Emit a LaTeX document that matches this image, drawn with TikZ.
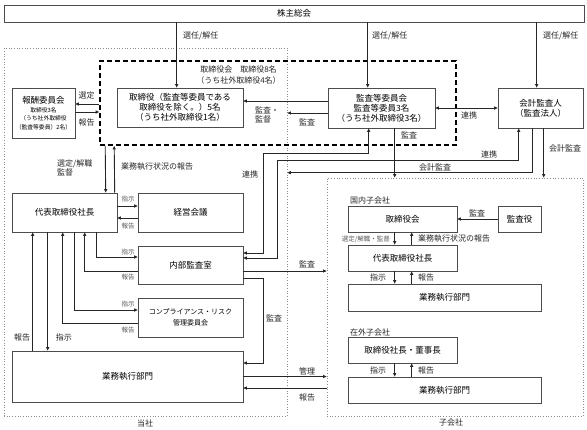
\documentclass[tikz,border=0pt]{standalone}
\usepackage{fontspec}
\setmainfont{Noto Sans CJK JP}
\usetikzlibrary{arrows.meta,positioning}

\begin{document}
\begin{tikzpicture}[x=1pt, y=-1pt, font=\fontsize{8}{10}\selectfont,
    box/.style={draw=black!70, fill=white, line width=0.6pt, align=center,
      inner sep=0pt, font=\fontsize{8.5}{10}\selectfont},
    frame/.style={draw=black!45, dotted, line width=0.7pt, inner sep=0pt},
    arr/.style={-{Triangle[length=3.5pt,width=3pt]}, line width=0.9pt, draw=black!85},
    arrs/.style={{Triangle[length=3.5pt,width=3pt]}-{Triangle[length=3.5pt,width=3pt]},
      line width=0.9pt, draw=black!85},
    lbl/.style={inner sep=0pt, text=black!85},
    sml/.style={lbl, font=\fontsize{6.5}{8}\selectfont, text=black!65}]
    \useasboundingbox (0,0) rectangle (587,429);

    % frames of the two companies
    \node[frame, minimum width=283pt, minimum height=368pt] (tosha) at (145.5,232) {};
    \node[frame, minimum width=256pt, minimum height=238pt] (sub) at (455,297) {};
    \node[lbl] (toshalbl) at (145,423) {当社};
    \node[lbl] (sublbl) at (451,422) {子会社};

    % board, dashed
    \node[draw, dashed, dash pattern=on 5pt off 3pt, line width=1.6pt, inner sep=0pt,
      minimum width=356pt, minimum height=84pt] (brd) at (278,103) {};
    \node[lbl, align=center, font=\fontsize{8}{11}\selectfont] (brdlbl) at (238.5,75.5) {
      取締役会　取締役8名\\（うち社外取締役4名）
    };

    \node[box, minimum width=580pt, minimum height=17pt] (agm) at (294,13.5) {株主総会};

    \node[box, minimum width=63pt, minimum height=50pt,
      font=\fontsize{5.8}{8.5}\selectfont] (rem) at (43.5,113) {
      {\fontsize{8.5}{9.5}\selectfont 報酬委員会}\\
      取締役3名\\
      （うち社外取締役\\
      （監査等委員）2名）
    };
    \node[box, minimum width=126pt, minimum height=39pt] (dir) at (180,107.5) {
      取締役（監査等委員である\\取締役を除く。）5名\\（うち社外取締役1名）
    };
    \node[box, minimum width=107pt, minimum height=40pt] (aud) at (381.5,108) {
      監査等委員会\\監査等委員3名\\（うち社外取締役3名）
    };
    \node[box, minimum width=85pt, minimum height=40pt] (acc) at (540.5,108) {
      会計監査人\\（監査法人）
    };

    % inside the company
    \node[box, minimum width=105pt, minimum height=39pt] (pres) at (64.5,212.5) {代表取締役社長};
    \node[box, minimum width=105pt, minimum height=39pt] (mtg) at (190.5,212.5) {経営会議};
    \node[box, minimum width=105pt, minimum height=38pt] (iad) at (190.5,265) {内部監査室};
    \node[box, minimum width=105pt, minimum height=39pt,
      font=\fontsize{7}{10.5}\selectfont] (cmp) at (190.5,317.5) {
      コンプライアンス・リスク\\管理委員会
    };
    \node[box, minimum width=231pt, minimum height=51pt] (ops) at (127.5,376.5) {業務執行部門};

    % subsidiaries
    \node[box, minimum width=109pt, minimum height=26pt] (sbrd) at (402.5,219) {取締役会};
    \node[box, minimum width=43pt, minimum height=26pt] (kan) at (519.5,219) {監査役};
    \node[box, minimum width=109pt, minimum height=26pt] (spres) at (402.5,258) {代表取締役社長};
    \node[box, minimum width=193pt, minimum height=27pt] (sops) at (444.5,297.5) {業務執行部門};
    \node[box, minimum width=109pt, minimum height=26pt] (fpres) at (402.5,350) {取締役社長・董事長};
    \node[box, minimum width=193pt, minimum height=26pt] (fops) at (444.5,390) {業務執行部門};

    % points on the box edges
    \coordinate (agmA) at ([xshift=60pt]dir.north west);
    \coordinate (agmB) at ([xshift=40pt]aud.north west);
    \coordinate (agmC) at ([xshift=39pt]acc.north west);
    \coordinate (remA) at ([yshift=9pt]rem.east);
    \coordinate (remB) at ([yshift=1pt]rem.east);
    \coordinate (audA) at ([yshift=7pt]aud.west);
    \coordinate (audB) at ([yshift=-5pt]aud.west);
    \coordinate (audC) at ([xshift=67pt]aud.south west);
    \coordinate (accA) at ([xshift=46pt]acc.south west);
    \coordinate (accB) at ([xshift=35pt]acc.south west);
    \coordinate (iadA) at ([yshift=-6pt]iad.east);
    \coordinate (opsA) at ([yshift=-11.5pt]ops.east);

    % shareholders
    \draw[arr] (agmA |- agm.south) -- (agmA);
    \draw[arr] (agmB |- agm.south) -- (agmB);
    \draw[arr] (agmC |- agm.south) -- (agmC);
    \node[lbl, anchor=west] (l1) at (183,36) {選任/解任};
    \node[lbl, anchor=west] (l2) at (372,36) {選任/解任};
    \node[lbl, anchor=west] (l3) at (543,36) {選任/解任};

    \draw[arr] (remA -| brd.west) -- (remA);
    \draw[arr] (remB) -- (remB -| brd.west);
    \node[lbl] (l4) at (86.5,95) {選定};
    \node[lbl] (l5) at (86.5,122) {報告};

    \draw[arr] (audA) -- (audA -| dir.east);
    \draw[arr] (audB) -- (audB -| tosha.east);
    \draw[arrs] (aud.east) -- (acc.west);
    \draw[arr] (audC) -- (audC |- sub.north);
    \node[lbl, align=left, anchor=west, font=\fontsize{8}{9}\selectfont] (l6) at (255,114.5) {監査・\\監督};
    \node[lbl] (l7) at (307,122) {監査};
    \node[lbl] (l8) at (469,115) {連携};
    \node[lbl] (l9) at (409,135) {監査};

    % auditor
    \draw[arr] (accA) -- (accA |- sub.north);
    \draw[arr] (accB) |- ([yshift=-125pt]tosha.north east);
    \draw[arrs] ([xshift=21pt]acc.south west) -- ++(0,32)
      -| ([xshift=34pt,yshift=7pt]iad.east) -- ([yshift=7pt]iad.east);
    \draw[arrs] ([xshift=41pt]aud.south west) -- ++(0,25)
      -| ([xshift=20pt,yshift=12pt]iad.east) -- ([yshift=12pt]iad.east);
    \node[lbl] (l10) at (565,148) {会計監査};
    \node[lbl] (l11) at (489,154) {連携};
    \node[lbl] (l12) at (435,167) {会計監査};
    \node[lbl] (l13) at (250,174) {連携};

    % board and president
    \draw[arr] ([xshift=6pt]brd.south west) -- ([xshift=94pt]pres.north west);
    \draw[arr] ([xshift=103pt]pres.north west) -- ([xshift=15pt]brd.south west);
    \node[lbl, align=left, anchor=west, font=\fontsize{8}{9}\selectfont] (l14) at (57,167.5) {選定/解職\\監督};
    \node[lbl] (l15) at (157,167) {業務執行状況の報告};

    % president and the units
    \draw[arr] ([yshift=6.5pt]pres.east) -- ([yshift=6.5pt]mtg.west);
    \draw[arr] ([yshift=-5.5pt]mtg.west) -- ([yshift=-5.5pt]pres.east);
    \draw[arr] ([xshift=85pt]pres.south west) |- ([yshift=8pt]iad.west);
    \draw[arr] ([yshift=-6pt]iad.west) -| ([xshift=73pt]pres.south west);
    \draw[arr] ([xshift=63pt]pres.south west) |- ([yshift=7.5pt]cmp.west);
    \draw[arr] ([yshift=-5.5pt]cmp.west) -| ([xshift=51pt]pres.south west);
    \draw[arr] ([xshift=21pt]ops.north west) -- ([xshift=21pt]pres.south west);
    \draw[arr] ([xshift=36pt]pres.south west) -- ([xshift=36pt]ops.north west);
    \node[sml] (s1) at (128,199) {指示};
    \node[sml] (s2) at (128,226) {報告};
    \node[sml] (s3) at (128,252) {指示};
    \node[sml] (s4) at (128,277) {報告};
    \node[sml] (s5) at (128,304) {指示};
    \node[sml] (s6) at (128,330) {報告};
    \node[lbl] (l16) at (22,337) {報告};
    \node[lbl] (l17) at (64,337) {指示};

    % internal audit and operations
    \draw[arr] ([yshift=-13pt]iad.east) -- ++(20,0) |- ([yshift=13.5pt]ops.east);
    \draw[arr] (iadA) -- (iadA -| sub.west);
    \draw[arr] (ops.east) -- (ops.east -| sub.west);
    \draw[arr] (opsA -| sub.west) -- (opsA);
    \node[lbl] (l18) at (274,318) {監査};
    \node[lbl] (l19) at (307,264) {監査};
    \node[lbl] (l20) at (307,371) {管理};
    \node[lbl] (l21) at (307,397) {報告};

    % domestic subsidiary
    \node[lbl, anchor=west] (l22) at (350,200) {国内子会社};
    \draw[arr] (kan.west) -- (sbrd.east);
    \draw[arr] ([xshift=47pt]sbrd.south west) -- ([xshift=47pt]spres.north west);
    \draw[arr] ([xshift=64pt]spres.north west) -- ([xshift=64pt]sbrd.south west);
    \draw[arr] ([xshift=47pt]spres.south west) -- ([xshift=47pt]sops.north west);
    \draw[arr] ([xshift=64pt]sops.north west) -- ([xshift=64pt]spres.south west);
    \node[lbl] (l23) at (477,213) {監査};
    \node[sml, anchor=east] (l24) at (390,239) {選定/解職・監督};
    \node[lbl, anchor=west] (l25) at (418,239) {業務執行状況の報告};
    \node[lbl] (l26) at (378,277) {指示};
    \node[lbl] (l27) at (426,277) {報告};

    % foreign subsidiary
    \node[lbl, anchor=west] (l28) at (350,332) {在外子会社};
    \draw[arr] ([xshift=47pt]fpres.south west) -- ([xshift=47pt]fops.north west);
    \draw[arr] ([xshift=64pt]fops.north west) -- ([xshift=64pt]fpres.south west);
    \node[lbl] (l29) at (378,370) {指示};
    \node[lbl] (l30) at (426,370) {報告};
\end{tikzpicture}
\end{document}
